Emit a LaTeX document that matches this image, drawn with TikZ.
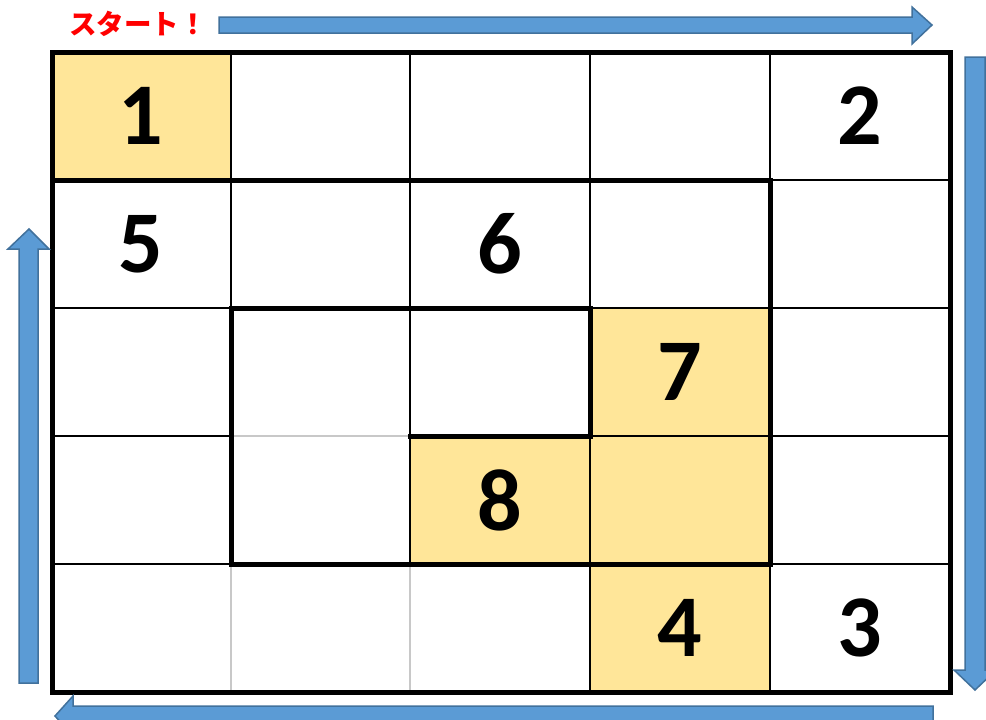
\documentclass[tikz,border=0pt]{standalone}
\usepackage{fontspec}
\setmainfont{Carlito}
\newfontfamily\jpfont{Noto Sans CJK JP}
\usepackage{tikz}
\definecolor{cellgold}{HTML}{FFE699}
\definecolor{arrowblue}{HTML}{5B9BD5}
\definecolor{arrowedge}{HTML}{41719C}
\definecolor{startred}{HTML}{FF0000}
\definecolor{softgray}{HTML}{C8C8C8}
\tikzset{
  marked cell/.style={fill=cellgold},
  thin rule/.style={draw=black,line width=2pt},
  faint rule/.style={draw=softgray,line width=2pt},
  wall/.style={draw=black,line width=5pt,line cap=rect},
  digit/.style={font=\fontsize{88}{88}\selectfont\bfseries,inner sep=0pt},
  block arrow/.style={fill=arrowblue,draw=arrowedge,line width=1.5pt,line join=miter}
}
\begin{document}
\begin{tikzpicture}[x=1pt,y=-1pt]
  \useasboundingbox (0,0) rectangle (986,720);
  \clip (0,0) rectangle (986,720);
  \fill[white] (0,0) rectangle (986,720);
  % column and row edges
  \foreach \x [count=\i from 0] in {52,231,410,590,770,950}
    \coordinate (x\i) at (\x,0);
  \foreach \y [count=\j from 0] in {52,180,308,436,564,692}
    \coordinate (y\j) at (0,\y);
  % gold cells
  \fill[marked cell] (x0|-y0) rectangle (x1|-y1);
  \fill[marked cell] (x3|-y2) rectangle (x4|-y5);
  \fill[marked cell] (x2|-y3) rectangle (x3|-y4);
  % grid
  \foreach \i in {1,...,4} \draw[thin rule] (x\i|-y0) -- (x\i|-y5);
  \foreach \j in {1,...,4} \draw[thin rule] (x0|-y\j) -- (x5|-y\j);
  \draw[faint rule] (x1|-y4) -- (x1|-y5);
  \draw[faint rule] (x2|-y4) -- (x2|-y5);
  \draw[faint rule] (x1|-y3) -- (x2|-y3);
  % spiral walls
  \draw[wall] (x0|-y0) rectangle (x5|-y5);
  \draw[wall] (x0|-y1) -- (x4|-y1) -- (x4|-y4) -- (x1|-y4)
    -- (x1|-y2) -- (x3|-y2) -- (x3|-y3) -- (x2|-y3);
  % numbers
  \node[digit] (n1) at (141,116) {1};
  \node[digit] (n2) at (860,116) {2};
  \node[digit] (n3) at (860,628) {3};
  \node[digit] (n4) at (680,628) {4};
  \node[digit] (n5) at (141,244) {5};
  \node[digit] (n6) at (500,244) {6};
  \node[digit] (n7) at (680,372) {7};
  \node[digit] (n8) at (500,500) {8};
  % start label and direction arrows
  \node[text=startred,font=\jpfont\bfseries\fontsize{27.5}{27.5}\selectfont,inner sep=0pt]
    (start) at (138,24) {スタート！};
  \draw[block arrow] (219,17) -- (912,17) -- (912,7) -- (932,25) -- (912,44)
    -- (912,33) -- (219,33) -- cycle;
  \draw[block arrow] (965,57) -- (985,57) -- (985,670) -- (996,670) -- (975,690)
    -- (954,670) -- (965,670) -- cycle;
  \draw[block arrow] (933,706) -- (73,706) -- (73,696) -- (55,716) -- (73,736)
    -- (73,726) -- (933,726) -- cycle;
  \draw[block arrow] (19,683) -- (19,249) -- (8,249) -- (29,229) -- (49,249)
    -- (38,249) -- (38,683) -- cycle;
\end{tikzpicture}
\end{document}
